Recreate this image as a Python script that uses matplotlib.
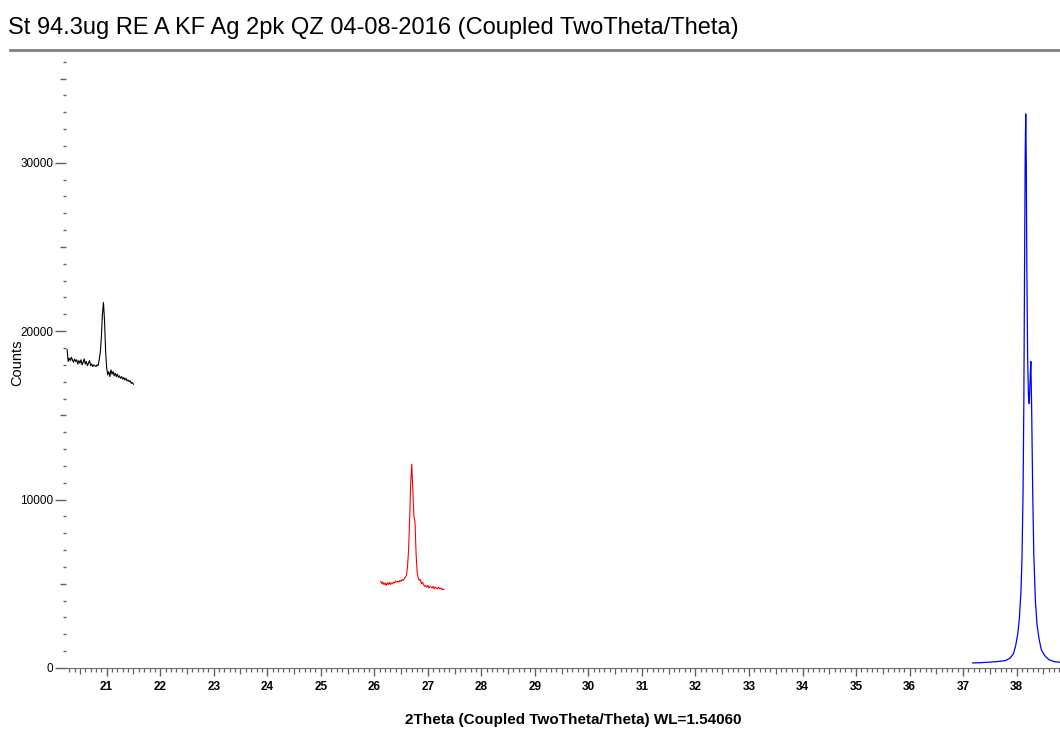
import numpy as np
import matplotlib
matplotlib.use('Agg')
import matplotlib.pyplot as plt
from matplotlib.lines import Line2D
from matplotlib.ticker import MultipleLocator
from matplotlib import font_manager

# pick a narrow font if there is one
try:
    font_manager.findfont('Liberation Sans Narrow', fallback_to_default=False)
    narrow = 'Liberation Sans Narrow'
except Exception:
    narrow = 'Liberation Sans'
plt.rcParams['font.family'] = [narrow, 'DejaVu Sans']

title = 'St 94.3ug RE A KF Ag 2pk QZ 04-08-2016 (Coupled TwoTheta/Theta)'
xlabel = '2Theta (Coupled TwoTheta/Theta) WL=1.54060'
ylabel = 'Counts'

# black scan (~21 deg)
black_x = [20.26, 20.28, 20.30, 20.32, 20.34, 20.36, 20.38, 20.40, 20.42, 20.44,
           20.46, 20.48, 20.50, 20.52, 20.54, 20.56, 20.58, 20.60, 20.62, 20.64,
           20.66, 20.68, 20.70, 20.72, 20.74, 20.76, 20.78, 20.80, 20.82, 20.84,
           20.86, 20.88, 20.90, 20.92, 20.94, 20.96, 20.98, 21.00, 21.02, 21.04,
           21.06, 21.08, 21.10, 21.12, 21.14, 21.16, 21.18, 21.20, 21.22, 21.24,
           21.26, 21.28, 21.30, 21.32, 21.34, 21.36, 21.38, 21.40, 21.42, 21.44,
           21.46, 21.48, 21.50]
black_y = [18900, 18200, 18400, 18250, 18450, 18300, 18150, 18350, 18200, 18300,
           18050, 18250, 18100, 18300, 18000, 18150, 18350, 18050, 18200, 17950,
           18100, 18250, 17950, 18050, 17900, 18000, 17950, 17900, 18000, 17950,
           18300, 18700, 19600, 21000, 21700, 20600, 18800, 17800, 17400, 17600,
           17300, 17700, 17450, 17600, 17350, 17500, 17300, 17450, 17250, 17350,
           17200, 17300, 17150, 17250, 17100, 17200, 17050, 17100, 17000, 17050,
           16900, 16950, 16850]

# red scan (~26.7 deg)
red_x = [26.12, 26.14, 26.16, 26.18, 26.20, 26.22, 26.24, 26.26, 26.28, 26.30,
         26.32, 26.34, 26.36, 26.38, 26.40, 26.42, 26.44, 26.46, 26.48, 26.50,
         26.52, 26.54, 26.56, 26.58, 26.60, 26.62, 26.64, 26.66, 26.68, 26.70,
         26.72, 26.74, 26.76, 26.78, 26.80, 26.82, 26.84, 26.86, 26.88, 26.90,
         26.92, 26.94, 26.96, 26.98, 27.00, 27.02, 27.04, 27.06, 27.08, 27.10,
         27.12, 27.14, 27.16, 27.18, 27.20, 27.22, 27.24, 27.26, 27.28, 27.30]
red_y = [5150, 5000, 5100, 4950, 5050, 4900, 5050, 4950, 5100, 4950,
         5050, 5000, 5100, 5050, 5150, 5100, 5150, 5100, 5200, 5150,
         5250, 5200, 5300, 5400, 5500, 6000, 7000, 8800, 11000, 12100,
         10500, 9000, 8700, 6800, 5700, 5350, 5200, 5250, 5000, 5100,
         4950, 4850, 4900, 4800, 4900, 4750, 4850, 4800, 4750, 4850,
         4700, 4800, 4750, 4700, 4800, 4700, 4750, 4650, 4700, 4650]

# blue scan (Ag 111, ~38.2 deg)
blue_x = [37.18, 37.30, 37.40, 37.50, 37.60, 37.70, 37.80, 37.88, 37.94, 37.98,
          38.02, 38.05, 38.08, 38.10, 38.12, 38.135, 38.15, 38.16, 38.17, 38.18,
          38.19, 38.205, 38.22, 38.235, 38.25, 38.265, 38.28, 38.30, 38.32, 38.35,
          38.38, 38.42, 38.46, 38.52, 38.60, 38.70, 38.80, 38.85]
blue_y = [300, 310, 330, 350, 370, 400, 450, 600, 850, 1300,
          2000, 2900, 4500, 6500, 10500, 16000, 25000, 30500, 32900, 30000,
          24000, 18500, 16200, 15700, 17000, 18200, 15500, 10500, 6800, 4000,
          2600, 1700, 1100, 750, 500, 380, 340, 330]

W, H = 1060, 729
fig = plt.figure(figsize=(W / 100, H / 100), dpi=100)
ax = fig.add_axes([66 / W, (H - 668) / H, (W - 66) / W, (668 - 60) / H])

ax.plot(black_x, black_y, color='black', lw=0.8)
ax.plot(red_x, red_y, color='#ff0000', lw=0.8)
ax.plot(blue_x, blue_y, color='#0000ff', lw=0.9)

ax.set_xlim(20.24, 38.81)
ax.set_ylim(0, 36100)

for s in ['top', 'right', 'left']:
    ax.spines[s].set_visible(False)
ax.spines['bottom'].set_color('#707070')

grey = '#606060'
ax.xaxis.set_major_locator(MultipleLocator(1))
ax.xaxis.set_minor_locator(MultipleLocator(0.1))
ax.tick_params(axis='x', which='major', length=6, width=1, color=grey, pad=3,
               labelsize=8.5)
ax.tick_params(axis='x', which='minor', length=3, width=0.9, color=grey)
for lab in ax.get_xticklabels():
    lab.set_fontweight('bold')

ax.yaxis.set_major_locator(MultipleLocator(10000))
ax.yaxis.set_minor_locator(MultipleLocator(1000))
ax.tick_params(axis='y', which='major', length=8, width=1, color=grey, pad=1,
               labelsize=8.5)
ax.tick_params(axis='y', which='minor', length=2, width=1, color=grey)
ax.yaxis.set_major_formatter(plt.FuncFormatter(lambda v, p: '%d' % v))

# medium marks at the half steps
xlocs = ax.xaxis.get_minorticklocs()
for t, v in zip(ax.xaxis.get_minor_ticks(len(xlocs)), xlocs):
    if abs(v * 2 - round(v * 2)) < 1e-6:
        t.tick1line.set_markersize(4.5)
ylocs = ax.yaxis.get_minorticklocs()
for t, v in zip(ax.yaxis.get_minor_ticks(len(ylocs)), ylocs):
    if round(v) % 5000 == 0:
        t.tick1line.set_markersize(4)

fig.text(8 / W, 1 - 28 / H, title, fontsize=17, va='center', ha='left')
fig.add_artist(Line2D([10 / W, 1], [1 - 50 / H, 1 - 50 / H], color='#808080', lw=2))
fig.text(573 / W, 1 - 720 / H, xlabel, fontsize=11, fontweight='bold',
         va='center', ha='center')
fig.text(17 / W, 1 - 363 / H, ylabel, fontsize=10.5, rotation=90,
         va='center', ha='center')

fig.savefig('out.png', dpi=100)
